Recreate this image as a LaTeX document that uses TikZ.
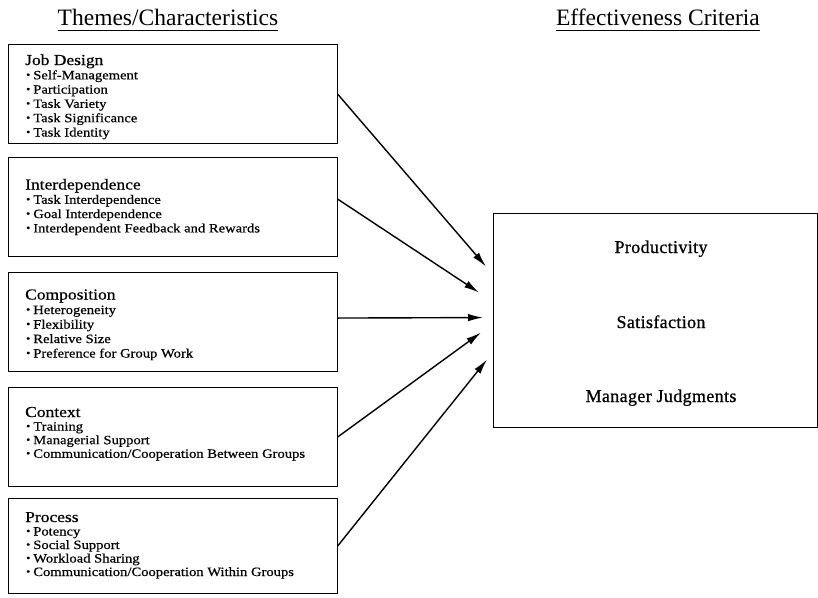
\documentclass[tikz,border=0pt]{standalone}
\usepackage{fontspec}
\usepackage{graphicx}
\setmainfont{Liberation Serif}
\newfontfamily\wideserif[FakeStretch=1.15,FakeBold=0.6]{Liberation Serif}
\newfontfamily\spacedserif[LetterSpace=2,FakeBold=0.8]{Liberation Serif}
\usetikzlibrary{arrows.meta}

\newcommand\headfnt{\wideserif\fontsize{15.2}{15}\selectfont}
\newcommand\itemfnt{\wideserif\fontsize{12.7}{13.5}\selectfont}
\newcommand\smallbul{\raisebox{0.2ex}{\scalebox{0.8}{\textbullet}}}
\newcommand\bitem[1]{\hbox{\hspace{1pt}\itemfnt\smallbul\hspace{3pt}#1}}
\newcommand\themetext[3]{\vtop{\lineskiplimit=-100pt\lineskip=0pt\baselineskip=#1\hbox{\headfnt #2}#3}}

\begin{document}
\begin{tikzpicture}[x=1pt,y=-1pt,
  theme/.style={draw, line width=1.1pt, minimum width=329pt, minimum height=99pt, inner sep=0pt, anchor=north west},
  themetxt/.style={anchor=base west, inner sep=0pt},
  crit/.style={anchor=base, inner sep=0pt, font=\spacedserif\fontsize{18}{20}\selectfont},
  title/.style={anchor=base, inner sep=0pt, font=\fontsize{23.5}{26}\selectfont},
  uline/.style={line width=1.6pt},
  arr/.style={line width=1.4pt, -{Latex[length=15pt,width=7.5pt]}}
]
\useasboundingbox (0,0) rectangle (818,597);

% titles
\node[title] (h1) at (168,25.5) {Themes/Characteristics};
\node[title] (h2) at (658,25.5) {Effectiveness Criteria};
\draw[uline] ([yshift=-5pt]h1.base west) -- ([yshift=-5pt]h1.base east);
\draw[uline] ([yshift=-5pt]h2.base west) -- ([yshift=-5pt]h2.base east);

% theme boxes
\node[theme] (b1) at (7.5,44) {};
\node[theme] (b2) at (7.5,157) {};
\node[theme] (b3) at (7.5,272) {};
\node[theme] (b4) at (7.5,387) {};
\node[theme, minimum height=95pt] (b5) at (7.5,498) {};

\node[themetxt] (b1t) at (25,65) {\themetext{14.3pt}{Job Design}{\bitem{Self-Management}\bitem{Participation}\bitem{Task Variety}\bitem{Task Significance}\bitem{Task Identity}}};
\node[themetxt] (b2t) at (25,189.5) {\themetext{14.3pt}{Interdependence}{\bitem{Task Interdependence}\bitem{Goal Interdependence}\bitem{Interdependent Feedback and Rewards}}};
\node[themetxt] (b3t) at (25,299.5) {\themetext{14.5pt}{Composition}{\bitem{Heterogeneity}\bitem{Flexibility}\bitem{Relative Size}\bitem{Preference for Group Work}}};
\node[themetxt] (b4t) at (25,417) {\themetext{13.6pt}{Context}{\bitem{Training}\bitem{Managerial Support}\bitem{Communication/Cooperation Between Groups}}};
\node[themetxt] (b5t) at (25,522) {\themetext{13.5pt}{Process}{\bitem{Potency}\bitem{Social Support}\bitem{Workload Sharing}\bitem{Communication/Cooperation Within Groups}}};

% criteria box
\node[draw, line width=1.1pt, minimum width=324pt, minimum height=214pt, inner sep=0pt, anchor=north west] (res) at (493,213) {};
\node[crit] (c1) at (661,253) {Productivity};
\node[crit] (c2) at (661,328) {Satisfaction};
\node[crit] (c3) at (661,402) {Manager Judgments};

% arrows
\draw[arr] (b1.east) -- ([xshift=-7pt,yshift=54pt]res.west);
\draw[arr] ([yshift=8pt]b2.east) -- ([xshift=-14pt,yshift=28pt]res.west);
\draw[arr] ([yshift=4pt]b3.east) -- ([xshift=-10pt,yshift=3pt]res.west);
\draw[arr] (b4.east) -- ([xshift=-12pt,yshift=-12pt]res.west);
\draw[arr] (b5.east) -- ([xshift=-6pt,yshift=-39pt]res.west);
\end{tikzpicture}
\end{document}
